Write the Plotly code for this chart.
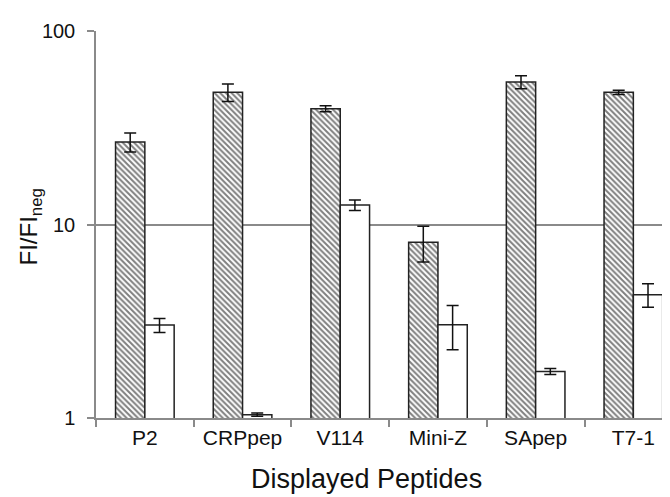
import plotly.graph_objects as go

categories = ["P2", "CRPpep", "V114", "Mini-Z", "SApep", "T7-1"]
displayed_values = [26.7, 48.2, 39.7, 8.1, 54.5, 48.2]
displayed_errors = [3.0, 5.0, 1.4, 1.7, 4.2, 1.2]
control_values = [3.02, 1.04, 12.6, 3.03, 1.74, 4.34]
control_errors = [0.25, 0.02, 0.8, 0.78, 0.06, 0.6]

y_tick_values = [1, 10, 100]
y_tick_labels = ["1", "10", "100"]

FONT = "Liberation Sans, Arial, sans-serif"
AXIS_GRAY = "#8a8a8a"

fig = go.Figure()
fig.add_trace(go.Bar(
    x=categories, y=displayed_values,
    marker=dict(
        color="white",
        line=dict(color="#222", width=1.5),
        pattern=dict(shape="\\", fgcolor="#000", bgcolor="white", size=4, solidity=0.5),
    ),
    error_y=dict(type="data", array=displayed_errors, color="#111", thickness=1.5, width=6),
    showlegend=False,
))
fig.add_trace(go.Bar(
    x=categories, y=control_values,
    marker=dict(color="white", line=dict(color="#222", width=1.5)),
    error_y=dict(type="data", array=control_errors, color="#111", thickness=1.5, width=6),
    showlegend=False,
))

fig.update_layout(
    width=670, height=497,
    margin=dict(l=88, r=0, t=23, b=87),
    paper_bgcolor="white", plot_bgcolor="white",
    barmode="group", bargap=0.4, bargroupgap=0,
    font=dict(family=FONT, color="#111", size=20),
    xaxis=dict(
        type="category", range=[-0.5, 5.457],
        showline=True, linecolor=AXIS_GRAY, linewidth=1.5,
        ticks="outside", tickson="boundaries", ticklen=7, tickcolor=AXIS_GRAY, tickwidth=1.5,
        tickfont=dict(size=21, family=FONT, color="#111"),
        showgrid=False,
    ),
    yaxis=dict(
        type="log", range=[0, 2],
        tickvals=y_tick_values, ticktext=y_tick_labels,
        showline=True, linecolor=AXIS_GRAY, linewidth=1.5,
        ticks="outside", ticklen=7, tickcolor=AXIS_GRAY, tickwidth=1.5,
        ticklabelstandoff=8,
        showgrid=True, gridcolor=AXIS_GRAY, gridwidth=1.5,
        zeroline=False,
        tickfont=dict(size=20, family=FONT, color="#111"),
    ),
    annotations=[
        dict(
            text="Displayed Peptides", xref="paper", yref="paper",
            x=0.465, y=0, yshift=-61, xanchor="center", yanchor="middle",
            showarrow=False, font=dict(size=27, family=FONT, color="#111"),
        ),
        dict(
            text="FI/FI<sub>neg</sub>", xref="paper", yref="paper",
            x=0, xshift=-66, y=0.5, yshift=-3, xanchor="center", yanchor="middle", textangle=-90,
            showarrow=False, font=dict(size=24, family=FONT, color="#111"),
        ),
    ],
)

fig.write_html("out.html")
